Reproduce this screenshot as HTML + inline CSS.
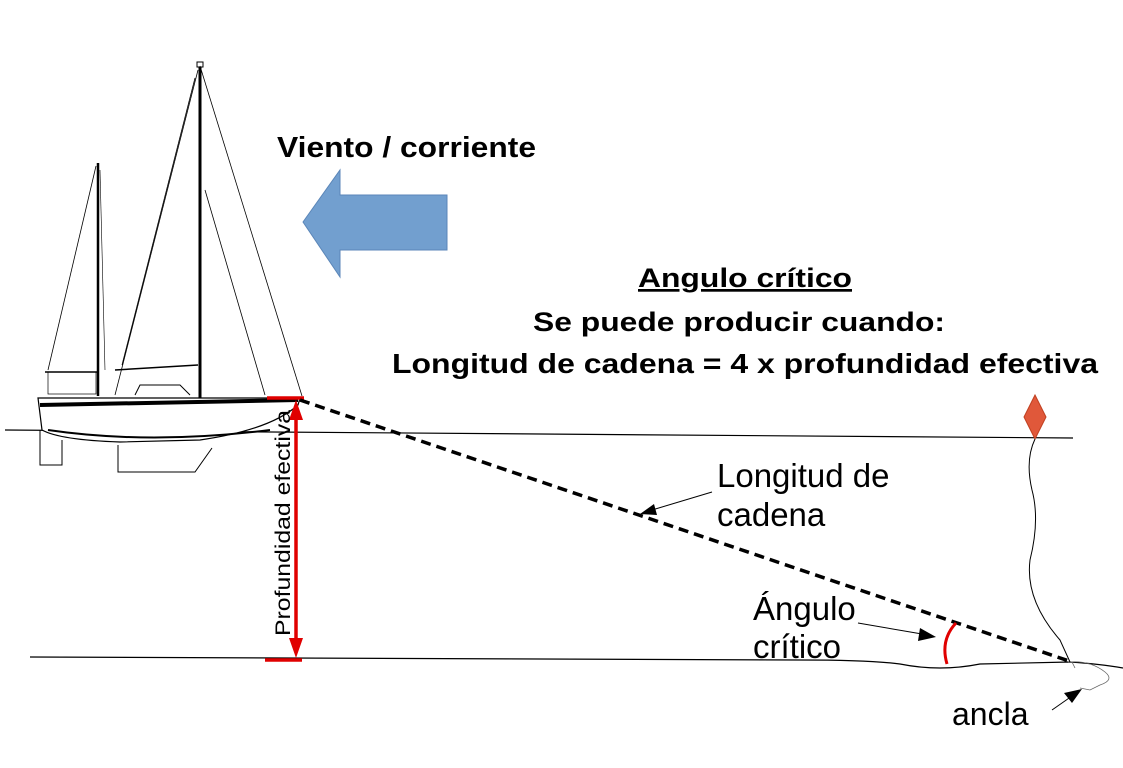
<!DOCTYPE html>
<html><head><meta charset="utf-8"><style>
html,body{margin:0;padding:0;background:#fff}
svg{display:block}
text{font-family:"Liberation Sans",Arial,sans-serif}
</style></head><body>
<svg width="1123" height="768" viewBox="0 0 1123 768" xmlns="http://www.w3.org/2000/svg">
<rect width="1123" height="768" fill="#fff"/>
<line x1="5" y1="430" x2="1073" y2="438" stroke="#000" stroke-width="1.2"/>
<path d="M30 657 L800 660 Q870 660 900 664 Q940 672 980 664 L1070 662 Q1100 664 1123 668" fill="none" stroke="#000" stroke-width="1.2"/>
<g stroke="#000" fill="none" stroke-width="1">
<line x1="200" y1="63" x2="200" y2="398" stroke-width="3"/>
<rect x="197" y="62" width="6" height="5" fill="#fff"/>
<line x1="98" y1="163" x2="98" y2="396" stroke-width="2.5"/>
<line x1="200" y1="66" x2="302" y2="396" stroke-width="0.8"/>
<line x1="198" y1="70" x2="115" y2="395" stroke-width="0.8"/>
<line x1="195" y1="78" x2="122" y2="365" stroke-width="0.8"/>
<line x1="205" y1="190" x2="265" y2="395" stroke-width="0.8"/>
<line x1="96" y1="166" x2="48" y2="370" stroke-width="0.8"/>
<line x1="100" y1="170" x2="105" y2="370" stroke-width="0.6"/>
<line x1="115" y1="370" x2="198" y2="365" stroke-width="1.5"/>
<line x1="45" y1="372" x2="97" y2="372" stroke-width="1.5"/>
<rect x="48" y="372" width="48" height="22" stroke-width="0.7"/>
<path d="M38 398 L300 398 L298 405 Q270 430 200 440 L120 442 Q60 440 42 430 Z" fill="#fff" stroke-width="1.2"/>
<path d="M40 405 L298 400" stroke-width="4"/>
<path d="M48 430 Q150 445 270 430" stroke-width="2"/>
<path d="M135 395 L140 385 L180 385 L190 395" fill="#fff"/>
<path d="M40 430 L40 465 L62 465 L62 440" />
<path d="M118 445 L118 472 L195 472 L212 448" />
</g>
<polygon points="303,222 340,170 340,195 447,195 447,250 340,250 340,277" fill="#729fcf" stroke="#5b86b8" stroke-width="1"/>
<text x="277" y="157" font-size="29" font-weight="bold" textLength="259" lengthAdjust="spacingAndGlyphs">Viento / corriente</text>
<text x="638" y="287" font-size="27" font-weight="bold" text-decoration="underline" textLength="214" lengthAdjust="spacingAndGlyphs">Angulo crítico</text>
<text x="533" y="331" font-size="27" font-weight="bold" textLength="412" lengthAdjust="spacingAndGlyphs">Se puede producir cuando:</text>
<text x="392" y="373" font-size="28" font-weight="bold" textLength="706" lengthAdjust="spacingAndGlyphs">Longitud de cadena = 4 x profundidad efectiva</text>
<g stroke="#e00000" stroke-width="3.5" fill="#e00000">
<line x1="267" y1="398" x2="304" y2="398"/>
<line x1="265" y1="660" x2="302" y2="660"/>
<line x1="296" y1="415" x2="296" y2="642"/>
<polygon points="296,400 289,420 303,420" stroke="none"/>
<polygon points="296,658 289,638 303,638" stroke="none"/>
</g>
<text transform="translate(290,523) rotate(-90)" font-size="21" text-anchor="middle" textLength="226" lengthAdjust="spacingAndGlyphs">Profundidad efectiva</text>
<line x1="300" y1="400" x2="1072" y2="662" stroke="#000" stroke-width="3.5" stroke-dasharray="10,6"/>
<text x="717" y="487" font-size="33">Longitud de</text>
<text x="717" y="526" font-size="33">cadena</text>
<line x1="712" y1="492" x2="652" y2="510" stroke="#000" stroke-width="1"/>
<polygon points="640,514 654,504 657,515" fill="#000"/>
<text x="753" y="620" font-size="33">Ángulo</text>
<text x="753" y="658" font-size="33">crítico</text>
<line x1="858" y1="623" x2="922" y2="634" stroke="#000" stroke-width="1"/>
<polygon points="936,637 920,628 918,641" fill="#000"/>
<path d="M956 623 Q940 640 947 664" fill="none" stroke="#e00000" stroke-width="3"/>
<text x="952" y="725" font-size="32">ancla</text>
<line x1="1052" y1="710" x2="1072" y2="696" stroke="#000" stroke-width="1"/>
<polygon points="1082,689 1064,693 1072,703" fill="#000"/>
<path d="M1068 662 Q1090 660 1105 672 Q1115 680 1100 685 L1090 690 L1080 688 M1075 668 L1072 662" fill="none" stroke="#666" stroke-width="0.8"/>
<path d="M1035 395 L1046 417 L1035 439 L1024 417 Z" fill="#e0583a" stroke="#c04020" stroke-width="1"/>
<path d="M1035 439 Q1025 460 1032 490 Q1040 520 1030 560 Q1025 600 1060 640 L1070 662" fill="none" stroke="#000" stroke-width="1"/>
</svg>
</body></html>
